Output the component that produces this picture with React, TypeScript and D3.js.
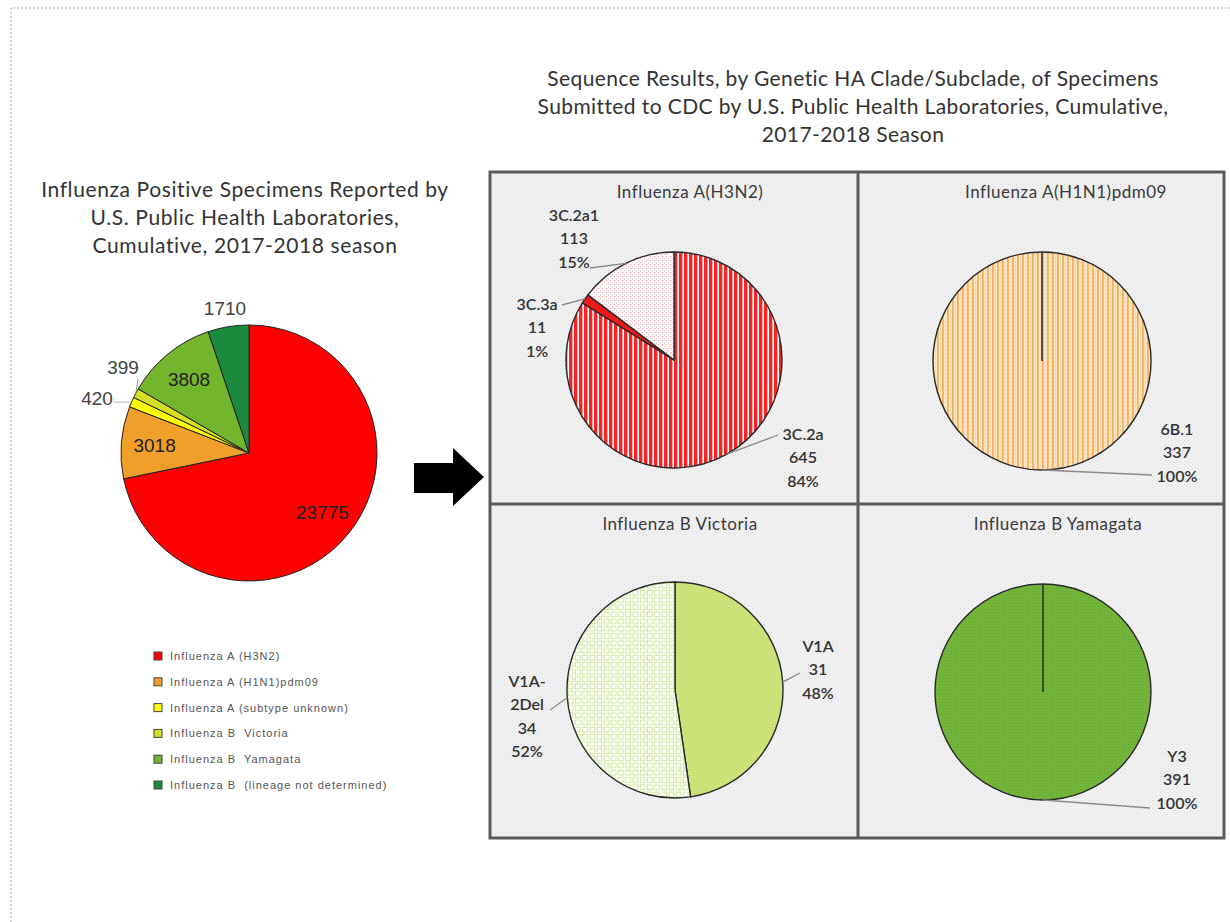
import React from "react";
import * as d3 from "d3";

// ---------- DATA ----------
const overviewCategories = [
  "Influenza A (H3N2)",
  "Influenza A (H1N1)pdm09",
  "Influenza A (subtype unknown)",
  "Influenza B  Victoria",
  "Influenza B  Yamagata",
  "Influenza B  (lineage not determined)",
];
const overviewValues = [23775, 3018, 420, 399, 3808, 1710];
const overviewColors = ["#FF0000", "#F0A028", "#FFFF00", "#D4E021", "#74B52E", "#1B8A3C"];

const h3n2Clades = ["3C.2a", "3C.3a", "3C.2a1"];
const h3n2Counts = [645, 11, 113];
const h3n2Percents = ["84%", "1%", "15%"];

const h1n1Clades = ["6B.1"];
const h1n1Counts = [337];
const h1n1Percents = ["100%"];

const victoriaClades = ["V1A", "V1A-2Del"];
const victoriaCounts = [31, 34];
const victoriaPercents = ["48%", "52%"];

const yamagataClades = ["Y3"];
const yamagataCounts = [391];
const yamagataPercents = ["100%"];

const mainTitleLines = [
  "Sequence Results, by Genetic HA Clade/Subclade, of Specimens",
  "Submitted to CDC by U.S. Public Health Laboratories, Cumulative,",
  "2017-2018 Season",
];
const leftTitleLines = [
  "Influenza Positive Specimens Reported by",
  "U.S. Public Health Laboratories,",
  "Cumulative, 2017-2018 season",
];

// ---------- HELPERS ----------
const edge = (a: number, r: number): [number, number] => [r * Math.sin(a), -r * Math.cos(a)];
const splitClade = (s: string) => {
  const i = s.indexOf("-");
  return i >= 0 ? [s.slice(0, i + 1), s.slice(i + 1)] : [s];
};

const CAL = "Lato, 'Open Sans', sans-serif";
const ARIAL = "'Liberation Sans', Arial, sans-serif";

type LabelLayout = { dx: number; dy: number; ex: number; ey: number };

function Panel(props: {
  x: number; y: number; w: number; h: number;
  title: string; titleX: number;
  cx: number; cy: number; r: number;
  clades: string[]; counts: number[]; percents: string[];
  fills: string[]; layout: LabelLayout[];
}) {
  const { cx, cy, r } = props;
  const pie = d3.pie<number>().sort(null).value((d) => d);
  const arcs = pie(props.counts);
  const arcGen = d3.arc<d3.PieArcDatum<number>>().innerRadius(0).outerRadius(r);
  const single = arcs.length === 1;
  const lineH = 23.5;
  return (
    <g>
      <rect x={props.x} y={props.y} width={props.w} height={props.h} fill="url(#p-bg)" />
      <text x={props.titleX} y={props.y + 19} textAnchor="middle" dominantBaseline="central"
        fontFamily={CAL} fontSize={17} letterSpacing={0.5} fill="#3a3a3a">{props.title}</text>
      <g transform={`translate(${cx},${cy})`}>
        {arcs.map((a, i) => (
          <path key={i} d={arcGen(a) || ""} fill={props.fills[i]} stroke="#2a2a2a" strokeWidth={1.4} />
        ))}
        {single && (
          <line x1={0} y1={0} x2={edge(arcs[0].startAngle, r)[0]} y2={edge(arcs[0].startAngle, r)[1]}
            stroke="#333" strokeWidth={1.6} />
        )}
        {arcs.map((a, i) => {
          const L = props.layout[i];
          const mid = (a.startAngle + a.endAngle) / 2;
          const [sx, sy] = edge(mid, r);
          const lines = [...splitClade(props.clades[i]), String(props.counts[i]), props.percents[i]];
          return (
            <g key={"l" + i}>
              <polyline points={`${sx},${sy} ${L.ex},${L.ey}`} fill="none" stroke="#8a8a8a" strokeWidth={1.3} />
              {lines.map((t, k) => (
                <text key={k} x={L.dx} y={L.dy + k * lineH} textAnchor="middle" dominantBaseline="central"
                  fontFamily={CAL} fontSize={16} fontWeight={600} fill="#333">{t}</text>
              ))}
            </g>
          );
        })}
      </g>
    </g>
  );
}

export default function App() {
  // Overview pie
  const ocx = 249, ocy = 453, orad = 128;
  const opie = d3.pie<number>().sort(null).value((d) => d);
  const oarcs = opie(overviewValues);
  const oarc = d3.arc<d3.PieArcDatum<number>>().innerRadius(0).outerRadius(orad);
  const inner = d3.arc<d3.PieArcDatum<number>>().innerRadius(orad * 0.74).outerRadius(orad * 0.74);

  // label placement for overview pie: inside for big slices, outside for small ones
  const outsideOffsets: Record<number, [number, number]> = {
    2: [-152, -55],
    3: [-126, -86],
    5: [-24, -145],
  };

  const legendX = 154, legendY0 = 656, legendStep = 25.8;

  const gx0 = 490, gy0 = 172, gx1 = 1224, gy1 = 838, gxm = 858, gym = 504;

  return (
    <svg width={1230} height={922} style={{ position: "absolute", left: 0, top: 0 }}>
      <defs>
        <pattern id="p-bg" width={4} height={4} patternUnits="userSpaceOnUse">
          <rect width={4} height={4} fill="#F1F1F2" />
          <rect x={0} y={0} width={1} height={1} fill="#D9D9DE" />
          <rect x={2} y={2} width={1} height={1} fill="#DDDDE0" />
        </pattern>
        <pattern id="p-red-stripes" width={5} height={10} patternUnits="userSpaceOnUse">
          <rect width={5} height={10} fill="#FFFFFF" />
          <rect x={0} width={3.4} height={10} fill="#F42626" />
        </pattern>
        <pattern id="p-pink-dots" width={4} height={4} patternUnits="userSpaceOnUse">
          <rect width={4} height={4} fill="#FFFFFF" />
          <rect x={0} y={0} width={1.2} height={1.2} fill="#F4A2A2" />
          <rect x={2} y={2} width={1.2} height={1.2} fill="#F8C4C4" />
        </pattern>
        <pattern id="p-orange-stripes" width={5} height={4} patternUnits="userSpaceOnUse">
          <rect width={5} height={4} fill="#FCE4C4" />
          <rect x={0} width={1.8} height={4} fill="#F4B25E" />
          <rect x={3} y={1} width={1} height={1} fill="#F6C98E" />
        </pattern>
        <pattern id="p-green-grid" width={7.2} height={7.2} patternUnits="userSpaceOnUse">
          <rect width={7.2} height={7.2} fill="#FFFFFF" />
          <rect x={1.2} y={1.2} width={4.8} height={4.8} fill="none" stroke="#CDE597" strokeWidth={1} />
        </pattern>
        <pattern id="p-light-green" width={3} height={3} patternUnits="userSpaceOnUse">
          <rect width={3} height={3} fill="#CDE37A" />
          <rect x={1} y={1} width={1} height={1} fill="#BFD96A" />
        </pattern>
        <pattern id="p-green" width={3} height={3} patternUnits="userSpaceOnUse">
          <rect width={3} height={3} fill="#73B53B" />
          <rect x={1} y={1} width={1} height={1} fill="#63A52E" />
        </pattern>
      </defs>

      <rect width={1230} height={922} fill="#FFFFFF" />
      {/* dotted page frame */}
      <path d="M11,922 V8 H1230" fill="none" stroke="#C8C8C8" strokeWidth={1.5} strokeDasharray="2 2" />

      {/* main title */}
      {mainTitleLines.map((t, i) => (
        <text key={i} x={853} y={77 + i * 28} textAnchor="middle" dominantBaseline="central"
          fontFamily={CAL} fontSize={21} letterSpacing={0.4} fill="#333">{t}</text>
      ))}

      {/* left title */}
      {leftTitleLines.map((t, i) => (
        <text key={i} x={245} y={188 + i * 28} textAnchor="middle" dominantBaseline="central"
          fontFamily={CAL} fontSize={21} letterSpacing={0.6} fill="#333">{t}</text>
      ))}

      {/* overview pie */}
      <g transform={`translate(${ocx},${ocy})`}>
        {oarcs.map((a, i) => (
          <path key={i} d={oarc(a) || ""} fill={overviewColors[i]} stroke="#222" strokeWidth={1} />
        ))}
        {oarcs.map((a, i) => {
          const mid = (a.startAngle + a.endAngle) / 2;
          if (outsideOffsets[i]) {
            const [lx, ly] = outsideOffsets[i];
            const [sx, sy] = edge(mid, orad);
            return (
              <g key={"t" + i}>
                {i === 2 && (
                  <line x1={sx} y1={sy} x2={lx + 16} y2={sy} stroke="#999" strokeWidth={1} strokeDasharray="2 1" />
                )}
                {i === 3 && (
                  <line x1={sx} y1={sy} x2={lx + 15} y2={ly + 12} stroke="#999" strokeWidth={1} />
                )}
                <text x={lx} y={ly} textAnchor="middle" dominantBaseline="central"
                  fontFamily={ARIAL} fontSize={19} fill="#444">{overviewValues[i]}</text>
              </g>
            );
          }
          const [tx, ty] = inner.centroid(a);
          return (
            <text key={"t" + i} x={tx} y={ty} textAnchor="middle" dominantBaseline="central"
              fontFamily={ARIAL} fontSize={19} fill="#222">{overviewValues[i]}</text>
          );
        })}
      </g>

      {/* legend */}
      {overviewCategories.map((c, i) => (
        <g key={c}>
          <rect x={legendX} y={legendY0 + i * legendStep - 4} width={8} height={8}
            fill={overviewColors[i]} stroke="#444" strokeWidth={1} />
          <text x={legendX + 16} y={legendY0 + i * legendStep} dominantBaseline="central"
            fontFamily={ARIAL} fontSize={11} letterSpacing={1.0} fill="#555" style={{ whiteSpace: "pre" }}>{c}</text>
        </g>
      ))}

      {/* arrow */}
      <path d="M414,463 H453 V448 L484,477 L453,506 V493 H414 Z" fill="#000" />

      {/* panels */}
      <Panel x={gx0} y={gy0} w={gxm - gx0} h={gym - gy0} title="Influenza A(H3N2)" titleX={690}
        cx={674} cy={360} r={108}
        clades={h3n2Clades} counts={h3n2Counts} percents={h3n2Percents}
        fills={["url(#p-red-stripes)", "#F01818", "url(#p-pink-dots)"]}
        layout={[
          { dx: 129, dy: 73, ex: 104, ey: 75 },
          { dx: -137, dy: -57, ex: -112, ey: -55 },
          { dx: -100, dy: -146, ex: -84, ey: -92 },
        ]} />
      <Panel x={gxm} y={gy0} w={gx1 - gxm} h={gym - gy0} title="Influenza A(H1N1)pdm09" titleX={1066}
        cx={1042} cy={361} r={109}
        clades={h1n1Clades} counts={h1n1Counts} percents={h1n1Percents}
        fills={["url(#p-orange-stripes)"]}
        layout={[{ dx: 135, dy: 67, ex: 110, ey: 114 }]} />
      <Panel x={gx0} y={gym} w={gxm - gx0} h={gy1 - gym} title="Influenza B Victoria" titleX={680}
        cx={675} cy={690} r={108}
        clades={victoriaClades} counts={victoriaCounts} percents={victoriaPercents}
        fills={["url(#p-light-green)", "url(#p-green-grid)"]}
        layout={[
          { dx: 143, dy: -45, ex: 125, ey: -17 },
          { dx: -148, dy: -10, ex: -125, ey: 20 },
        ]} />
      <Panel x={gxm} y={gym} w={gx1 - gxm} h={gy1 - gym} title="Influenza B Yamagata" titleX={1058}
        cx={1043} cy={692} r={108}
        clades={yamagataClades} counts={yamagataCounts} percents={yamagataPercents}
        fills={["url(#p-green)"]}
        layout={[{ dx: 134, dy: 63, ex: 107, ey: 116 }]} />

      {/* grid frame */}
      <rect x={gx0} y={gy0} width={gx1 - gx0} height={gy1 - gy0} fill="none" stroke="#5A5A5A" strokeWidth={3} />
      <line x1={gxm} y1={gy0} x2={gxm} y2={gy1} stroke="#5A5A5A" strokeWidth={3} />
      <line x1={gx0} y1={gym} x2={gx1} y2={gym} stroke="#5A5A5A" strokeWidth={3} />
    </svg>
  );
}
